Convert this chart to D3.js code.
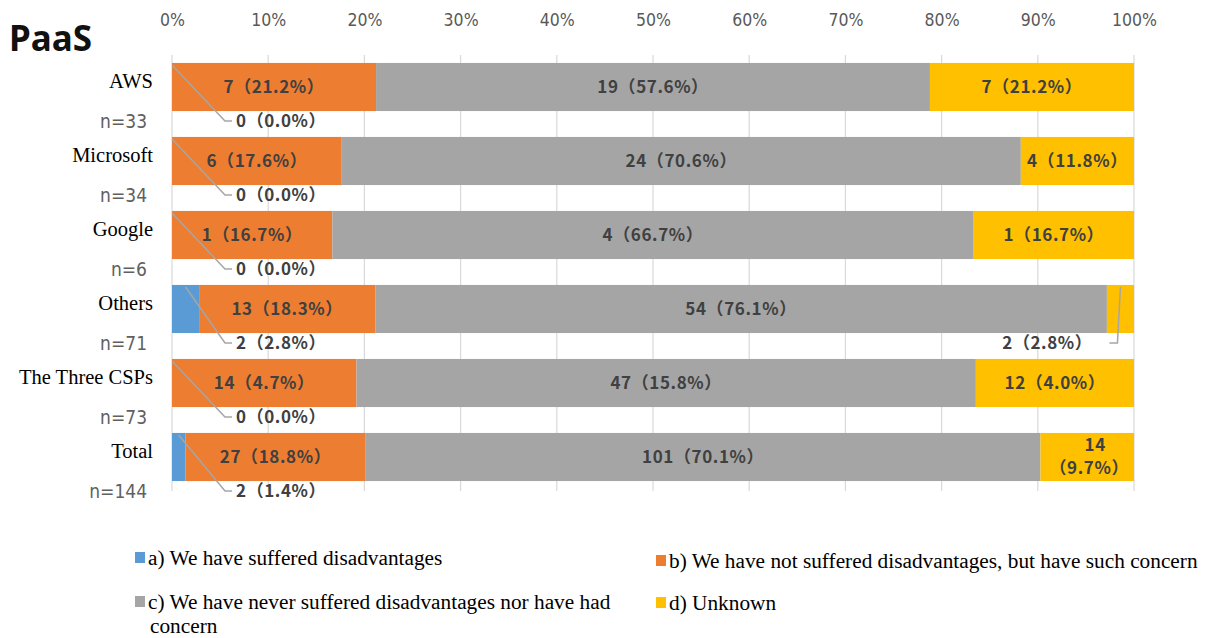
<!DOCTYPE html>
<html>
<head>
<meta charset="utf-8">
<script src="https://cdn.jsdelivr.net/npm/d3@7"></script>
<style>
  html, body { margin: 0; padding: 0; background: #fff; }
  svg { display: block; }
</style>
</head>
<body>
<svg id="chart" width="1207" height="638"></svg>
<script>
// ---------- data ----------
const title = "PaaS";
const categories = ["AWS", "Microsoft", "Google", "Others", "The Three CSPs", "Total"];
const nLabels = ["n=33", "n=34", "n=6", "n=71", "n=73", "n=144"];
const totals = [33, 34, 6, 71, 73, 144];
const countA = [0, 0, 0, 2, 0, 2];
const countB = [7, 6, 1, 13, 14, 27];
const countC = [19, 24, 4, 54, 47, 101];
const countD = [7, 4, 1, 2, 12, 14];
const pctA = ["0.0%", "0.0%", "0.0%", "2.8%", "0.0%", "1.4%"];
const pctB = ["21.2%", "17.6%", "16.7%", "18.3%", "4.7%", "18.8%"];
const pctC = ["57.6%", "70.6%", "66.7%", "76.1%", "15.8%", "70.1%"];
const pctD = ["21.2%", "11.8%", "16.7%", "2.8%", "4.0%", "9.7%"];
const tickValues = [0, 0.1, 0.2, 0.3, 0.4, 0.5, 0.6, 0.7, 0.8, 0.9, 1.0];
const tickLabels = ["0%", "10%", "20%", "30%", "40%", "50%", "60%", "70%", "80%", "90%", "100%"];
const seriesKeys = ["a", "b", "c", "d"];
const seriesNames = [
  "a) We have suffered disadvantages",
  "b) We have not suffered disadvantages, but have such concern",
  "c) We have never suffered disadvantages nor have had concern",
  "d) Unknown"
];
const seriesColors = ["#5B9BD5", "#ED7D31", "#A5A5A5", "#FFC000"];

// ---------- build table ----------
const counts = { a: countA, b: countB, c: countC, d: countD };
const pcts = { a: pctA, b: pctB, c: pctC, d: pctD };
const rows = categories.map((cat, i) => {
  const r = { cat, i };
  seriesKeys.forEach(k => { r[k] = counts[k][i] / totals[i]; });
  return r;
});

const svg = d3.select("#chart");
const x = d3.scaleLinear().domain([0, 1]).range([172, 1134]);
const y = d3.scaleBand().domain(categories).range([50, 494]).paddingInner(0.35).paddingOuter(0.175);
const color = d3.scaleOrdinal().domain(seriesKeys).range(seriesColors);

const sansLbl = "'DejaVu Sans Condensed', 'DejaVu Sans', sans-serif";
const valFont = "'Noto Sans CJK JP', 'Noto Sans', sans-serif";
const serif = "'Liberation Serif', 'Times New Roman', serif";

// Title
svg.append("text").attr("x", 9).attr("y", 51)
  .attr("font-family", "'Noto Sans', 'DejaVu Sans', sans-serif")
  .attr("font-weight", "bold").attr("font-size", 35).attr("fill", "#111")
  .text(title);

// Gridlines
svg.append("g").selectAll("line").data(tickValues).join("line")
  .attr("x1", d => x(d)).attr("x2", d => x(d))
  .attr("y1", 55).attr("y2", 491)
  .attr("stroke", "#d9d9d9").attr("stroke-width", 1.2);

// Top axis labels
const axis = d3.axisTop(x).tickValues(tickValues).tickFormat((d, i) => tickLabels[i]).tickSize(0).tickPadding(0);
const axG = svg.append("g").attr("transform", "translate(0,26)").call(axis);
axG.select(".domain").remove();
axG.selectAll("text").attr("font-family", sansLbl).attr("font-size", 17.5).attr("fill", "#595959");

// Bars
const stack = d3.stack().keys(seriesKeys);
const stacked = stack(rows);
const barsG = svg.append("g");
stacked.forEach(layer => {
  barsG.append("g").selectAll("rect").data(layer).join("rect")
    .attr("x", d => x(d[0]))
    .attr("y", d => y(d.data.cat))
    .attr("width", d => x(d[1]) - x(d[0]))
    .attr("height", y.bandwidth())
    .attr("fill", color(layer.key));
});

// Value labels
const lblG = svg.append("g").attr("font-family", valFont).attr("font-weight", "bold")
  .attr("font-size", 17).attr("letter-spacing", 0.6).attr("fill", "#404040");
const leaderColor = "#a6a6a6";
stacked.forEach(layer => {
  const k = layer.key;
  layer.forEach(d => {
    const i = d.data.i;
    const txt = counts[k][i] + "（" + pcts[k][i] + "）";
    const x0 = x(d[0]), x1 = x(d[1]);
    const top = y(d.data.cat), bot = top + y.bandwidth(), mid = top + y.bandwidth() / 2;
    const w = x1 - x0;
    if (k === "a") {
      const cx = (x0 + x1) / 2;
      const ly = bot + 10;
      svg.append("polyline")
        .attr("points", `${cx},${top + 2} ${x(0) + 53},${ly} ${x(0) + 60},${ly}`)
        .attr("fill", "none").attr("stroke", leaderColor).attr("stroke-width", 1.5);
      lblG.append("text").attr("x", x(0) + 64).attr("y", ly).attr("dy", "0.35em").text(txt);
      return;
    }
    if (w < 40) {
      const cx = (x0 + x1) / 2;
      const ly = bot + 10;
      svg.append("polyline")
        .attr("points", `${cx},${top + 2} ${cx - 3},${ly} ${cx - 11},${ly}`)
        .attr("fill", "none").attr("stroke", leaderColor).attr("stroke-width", 1.5);
      lblG.append("text").attr("x", cx - 28).attr("y", ly).attr("dy", "0.35em")
        .attr("text-anchor", "end").text(txt);
      return;
    }
    const t = lblG.append("text").attr("x", (x0 + x1) / 2).attr("y", mid).attr("dy", "0.35em")
      .attr("text-anchor", "middle").text(txt);
    const tw = t.node().getComputedTextLength();
    if (tw > w - 4) {
      t.text(null).attr("dy", null);
      t.append("tspan").attr("x", (x0 + x1) / 2 + 8).attr("y", mid - 12).attr("dy", "0.35em").text(String(counts[k][i]));
      t.append("tspan").attr("x", (x0 + x1) / 2 + 2).attr("y", mid + 11).attr("dy", "0.35em").text("（" + pcts[k][i] + "）");
    }
  });
});

// Category labels
const catG = svg.append("g");
categories.forEach((c, i) => {
  const top = y(c), mid = top + y.bandwidth() / 2;
  catG.append("text").attr("x", 153).attr("y", mid - 6).attr("dy", "0.35em")
    .attr("text-anchor", "end").attr("font-family", serif).attr("font-size", 20.5).attr("fill", "#000")
    .text(c);
  catG.append("text").attr("x", 147).attr("y", top + y.bandwidth() + 10).attr("dy", "0.35em")
    .attr("text-anchor", "end").attr("font-family", sansLbl).attr("font-size", 19).attr("fill", "#606060")
    .text(nLabels[i]);
});

// Legend
const legendPos = [
  { x: 135, y: 558 },
  { x: 656, y: 561 },
  { x: 135, y: 602 },
  { x: 656, y: 603 }
];
const legG = svg.append("g").attr("font-family", serif).attr("font-size", 21.3).attr("fill", "#000");
seriesKeys.forEach((k, i) => {
  const p = legendPos[i];
  legG.append("rect").attr("x", p.x).attr("y", p.y - 6).attr("width", 10).attr("height", 11).attr("fill", color(k));
  const t = legG.append("text").attr("x", p.x + 13).attr("y", p.y).attr("dy", "0.35em");
  if (i === 2) {
    const words = seriesNames[i].split(" ");
    t.append("tspan").text(words.slice(0, -1).join(" "));
    t.append("tspan").attr("x", p.x + 15).attr("y", 633).text(words[words.length - 1]);
  } else {
    t.text(seriesNames[i]);
  }
});
</script>
</body>
</html>
